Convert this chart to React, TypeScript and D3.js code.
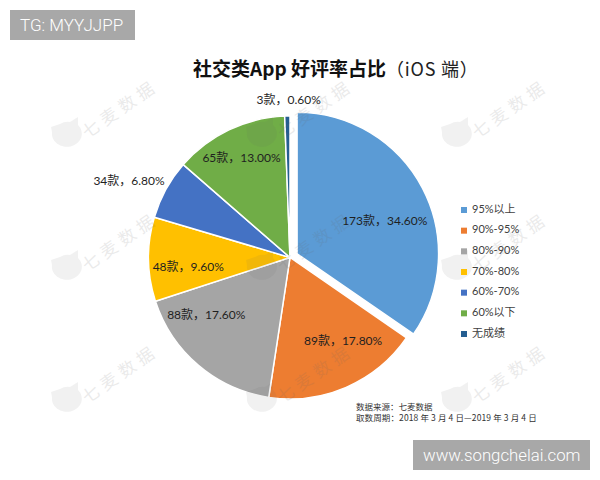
import * as d3 from "d3";

const categories = ["95%以上", "90%-95%", "80%-90%", "70%-80%", "60%-70%", "60%以下", "无成绩"];
const counts = [173, 89, 88, 48, 34, 65, 3];
const shares = ["34.60%", "17.80%", "17.60%", "9.60%", "6.80%", "13.00%", "0.60%"];
const colors = ["#5b9bd5", "#ed7d31", "#a5a5a5", "#ffc000", "#4472c4", "#70ad47", "#255e91"];
// hand placed labels, as in the original, relative to each slice centroid
const labelNudges = [[25, 1], [25, 20], [-38, 5], [-31, 10], [-99, -41], [-18, -35], [0, -86]];
const sourceLines = ["数据来源：七麦数据", "取数周期：2018 年 3 月 4 日—2019 年 3 月 4 日"];
const wmColumns = [65, 260, 455];
const wmRows = [135, 268, 400];

const width = 600;
const height = 480;
const cx = 290;
const cy = 257.5;
const radius = 141.5;
const explode = 8;
const font = "Lato, 'Noto Sans CJK SC', sans-serif";
const cjk = "'Noto Sans CJK SC', sans-serif";

const pie = d3.pie<number>().value((d) => d).sort(null);
const arc = d3.arc<d3.PieArcDatum<number>>().innerRadius(0).outerRadius(radius);
const legendY = d3.scalePoint<string>().domain(categories).range([210, 334]);

function Watermark({ x, y }: { x: number; y: number }) {
  return (
    <g transform={`translate(${x},${y})`} pointerEvents="none">
      <path
        d="M-14,-8 L-13,-3 A15,13 0 1 0 13,-10 L13,-18 L5,-13 Q0,-14 -5,-11 Z"
        fill="#666"
        opacity={0.09}
      />
      <text
        transform="translate(56,-25) rotate(-35)"
        textAnchor="middle"
        dominantBaseline="middle"
        fontFamily={cjk}
        fontSize={17}
        letterSpacing={5}
        fill="#666"
        opacity={0.13}
      >
        七麦数据
      </text>
    </g>
  );
}

export default function App() {
  const slices = pie(counts);
  return (
    <svg
      width={width}
      height={height}
      viewBox={`0 0 ${width} ${height}`}
      style={{ position: "absolute", left: 0, top: 0, background: "#fff" }}
    >
      <rect x={10} y={10} width={125} height={30} fill="#a8a8a8" />
      <text x={20} y={31} fill="#fff" fontFamily="Roboto, sans-serif" fontWeight={300} fontSize={17}>
        TG: MYYJJPP
      </text>

      <text x={193} y={76} fontFamily={cjk} fontSize={19} fill="#111">
        <tspan fontWeight={700}>社交类App 好评率占比</tspan>
        <tspan fontSize={18} letterSpacing={0.8} fill="#222">（iOS 端）</tspan>
      </text>

      <g transform={`translate(${cx},${cy})`}>
        {slices.map((s, i) => {
          const mid = (s.startAngle + s.endAngle) / 2;
          const off = i === 0 ? explode : 0;
          return (
            <path
              key={categories[i]}
              d={arc(s) ?? ""}
              fill={colors[i]}
              stroke="#fff"
              strokeWidth={1.5}
              transform={`translate(${Math.sin(mid) * off},${-Math.cos(mid) * off})`}
            />
          );
        })}
      </g>

      {d3.cross(wmColumns, wmRows).map(([x, y]) => (
        <Watermark key={`${x}-${y}`} x={x} y={y} />
      ))}

      <g transform={`translate(${cx},${cy})`}>
        {slices.map((s, i) => {
          const mid = (s.startAngle + s.endAngle) / 2;
          const off = i === 0 ? explode : 0;
          const [px, py] = arc.centroid(s);
          return (
            <text
              key={categories[i]}
              x={px + Math.sin(mid) * off + labelNudges[i][0]}
              y={py - Math.cos(mid) * off + labelNudges[i][1]}
              textAnchor="middle"
              dominantBaseline="middle"
              fontFamily={font}
              fontSize={12}
              fill="#1f1f1f"
            >
              {`${counts[i]}款，${shares[i]}`}
            </text>
          );
        })}
      </g>

      {categories.map((c, i) => (
        <g key={c} transform={`translate(461,${legendY(c)})`}>
          <rect x={0} y={-3} width={6} height={6} fill={colors[i]} />
          <text x={11} y={0} dominantBaseline="middle" fontFamily={font} fontSize={11} fill="#404040">
            {c}
          </text>
        </g>
      ))}

      {sourceLines.map((t, i) => (
        <text key={t} x={356} y={410 + i * 11} fontFamily={cjk} fontSize={8.5} letterSpacing={i ? 0.12 : 0} fill="#333">
          {t}
        </text>
      ))}

      <rect x={413} y={440} width={177} height={30} fill="#a8a8a8" />
      <text x={423} y={461} fill="#fff" fontFamily="Roboto, sans-serif" fontWeight={300} fontSize={16.8}>
        www.songchelai.com
      </text>
    </svg>
  );
}
